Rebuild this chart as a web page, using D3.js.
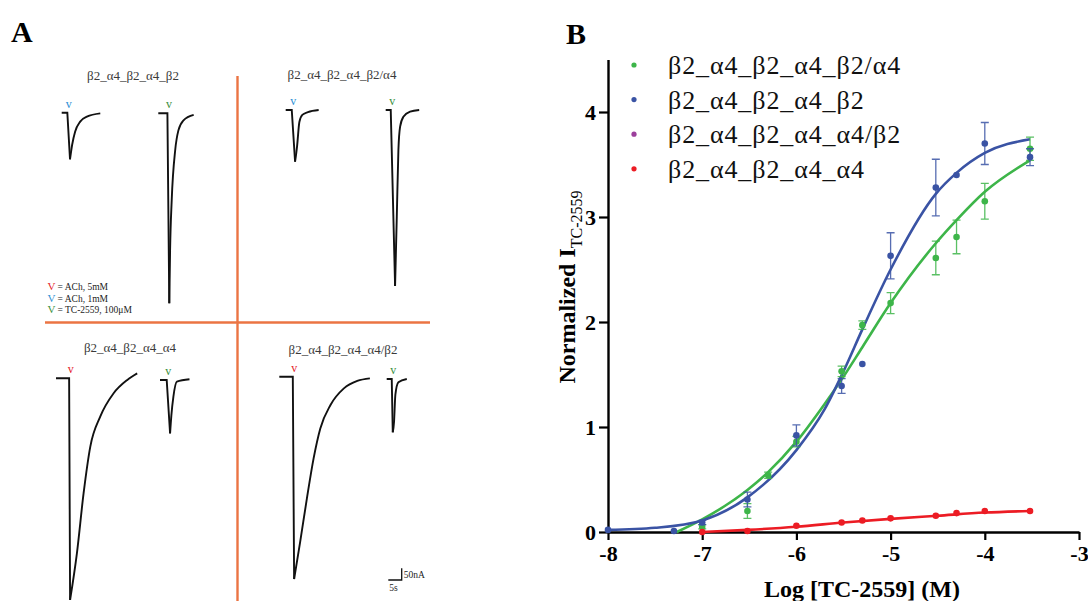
<!DOCTYPE html>
<html>
<head>
<meta charset="utf-8">
<script src="https://cdn.jsdelivr.net/npm/d3@7"></script>
<style>
  body { margin: 0; background: #fff; }
  svg { display: block; }
  text { font-family: "Liberation Serif", "Times New Roman", serif; }
</style>
</head>
<body>
<svg id="chart" width="1088" height="601"></svg>
<script>
// ---------------- data: panel A (current traces, [time s, inward current nA]) ----------------
const traceTitles = ['β2_α4_β2_α4_β2', 'β2_α4_β2_α4_β2/α4', 'β2_α4_β2_α4_α4', 'β2_α4_β2_α4_α4/β2'];
const agonistLabels = ['= ACh, 5mM', '= ACh, 1mM', '= TC-2559, 100μM'];
const agonistColors = ['#e5232b', '#2d8fd5', '#3a8f3e'];

const trace1 = [[0, 0], [2.1, 0], [3.1, 199], [3.9, 137], [5.0, 81], [6.9, 38], [9.4, 17], [14.4, 3]];
const trace2 = [[0, 0], [3.4, 0], [4.1, 812], [4.4, 585], [5.0, 372], [6.3, 158], [7.5, 73], [9.4, 30], [13.2, 7]];
const trace3 = [[0, 0], [2.26, 0], [3.5, 221], [4.25, 154], [5.1, 51], [6.2, 21], [8.3, 9], [12.3, 0]];
const trace4 = [[0, 0], [1.88, 0], [3.5, 752], [4.14, 456], [4.74, 171], [5.38, 71], [6.6, 29], [9.1, 7], [12.5, 0]];
const trace5 = [[0, 0], [4.9, 0], [5.26, 947], [7.8, 748], [10.3, 491], [12.8, 292], [16.5, 164], [21.5, 64], [26.6, 7], [30.3, -21]];
const trace6 = [[0, 0], [2.5, 0], [3.76, 228], [4.25, 150], [5.0, 71], [6.3, 7], [11, -3]];
const trace7 = [[0, 0], [5.04, 0], [5.53, 865], [7.8, 705], [10.3, 520], [12.8, 349], [15.3, 221], [19.1, 121], [24.1, 50], [29.1, 18], [33.8, 7]];
const trace8 = [[0, 0], [1.88, 0], [2.26, 228], [2.74, 182], [3.23, 68], [4.36, 14], [7.5, 0]];

// ---------------- data: panel B (concentration-response) ----------------
const seriesNames = ['β2_α4_β2_α4_β2/α4', 'β2_α4_β2_α4_β2', 'β2_α4_β2_α4_α4/β2', 'β2_α4_β2_α4_α4'];
const seriesColors = ['#3db549', '#3a53a4', '#9c3f9c', '#ec1c24'];
const xTicks = [-8, -7, -6, -5, -4, -3];
const yTicks = [0, 1, 2, 3, 4];

const greenX = [-7, -6.52, -6.3, -6, -5.52, -5.3, -5, -4.52, -4.3, -4, -3.52];
const greenY = [0.05, 0.20, 0.54, 0.86, 1.53, 1.97, 2.18, 2.61, 2.81, 3.15, 3.65];
const greenErr = [0.02, 0.07, 0.03, 0.05, 0.05, 0.04, 0.10, 0.16, 0.16, 0.17, 0.11];

const blueX = [-8, -7.3, -7, -6.52, -6, -5.52, -5.3, -5, -4.52, -4.3, -4, -3.52];
const blueY = [0.02, 0.01, 0.09, 0.31, 0.92, 1.39, 1.60, 2.63, 3.28, 3.40, 3.70, 3.57];
const blueErr = [0, 0, 0.02, 0.07, 0.10, 0.07, 0, 0.22, 0.27, 0, 0.20, 0.08];

const redX = [-7, -6.52, -6, -5.52, -5.3, -5, -4.52, -4.3, -4, -3.52];
const redY = [0.0, 0.01, 0.06, 0.09, 0.11, 0.13, 0.155, 0.18, 0.20, 0.20];
const redErr = [0.005, 0.005, 0.01, 0.01, 0.01, 0.01, 0.01, 0.01, 0.01, 0.01];

// fitted curves
const greenFitX = [-7.27, -7, -6.52, -6.3, -6, -5.7, -5.5, -5.3, -5, -4.52, -4.3, -4, -3.52];
const greenFitY = [0, 0.12, 0.40, 0.57, 0.86, 1.22, 1.48, 1.76, 2.18, 2.75, 2.97, 3.24, 3.54];
const blueFitX = [-8, -7.5, -7, -6.52, -6, -5.7, -5.5, -5.3, -5, -4.52, -4.3, -4, -3.52];
const blueFitY = [0.02, 0.04, 0.11, 0.33, 0.78, 1.17, 1.53, 1.93, 2.50, 3.22, 3.42, 3.61, 3.74];
const redFitX = [-7, -6.52, -6, -5.5, -5, -4.5, -4, -3.52];
const redFitY = [0.0, 0.02, 0.05, 0.09, 0.125, 0.155, 0.185, 0.20];

const svg = d3.select('#chart');

// ================= Panel A =================
const gA = svg.append('g');

gA.append('text').attr('x', 11).attr('y', 42)
  .attr('font-size', 30).attr('font-weight', 'bold').text('A');

// orange quadrant dividers
gA.append('line').attr('x1', 237.5).attr('x2', 237.5).attr('y1', 76).attr('y2', 601)
  .attr('stroke', '#eb7443').attr('stroke-width', 2.4);
gA.append('line').attr('x1', 45).attr('x2', 430).attr('y1', 322.5).attr('y2', 322.5)
  .attr('stroke', '#eb7443').attr('stroke-width', 2.4);

// quadrant titles
const titlePos = [[133, 80], [342, 79], [130, 352], [343, 354]];
traceTitles.forEach((t, i) => {
  gA.append('text').attr('x', titlePos[i][0]).attr('y', titlePos[i][1])
    .attr('text-anchor', 'middle').attr('font-size', 13).attr('fill', '#3a3a3a').text(t);
});

// trace scales shared by all recordings (scale bar 5 s / 50 nA)
const tScale = d3.scaleLinear().domain([0, 5]).range([0, 13.4]);
const iScale = d3.scaleLinear().domain([0, 50]).range([0, 11.7]);

const traces = [
  { pts: trace1, x0: 61.7, y0: 112.7, agonist: 1 },
  { pts: trace2, x0: 158.3, y0: 113.3, agonist: 2 },
  { pts: trace3, x0: 285.7, y0: 110, agonist: 1 },
  { pts: trace4, x0: 385.7, y0: 110, agonist: 2 },
  { pts: trace5, x0: 56, y0: 378.3, agonist: 0 },
  { pts: trace6, x0: 160, y0: 380, agonist: 2 },
  { pts: trace7, x0: 279.3, y0: 376.7, agonist: 0 },
  { pts: trace8, x0: 386.7, y0: 379, agonist: 2 }
];

traces.forEach(tr => {
  const line = d3.line()
    .x(d => tr.x0 + tScale(d[0]))
    .y(d => tr.y0 + iScale(d[1]));
  // baseline + fast activation: straight segments
  gA.append('path').attr('d', line(tr.pts.slice(0, 3)))
    .attr('fill', 'none').attr('stroke', '#111').attr('stroke-width', 1.9)
    .attr('stroke-linejoin', 'miter');
  // desensitisation / recovery: smooth
  gA.append('path').attr('d', line.curve(d3.curveMonotoneX)(tr.pts.slice(2)))
    .attr('fill', 'none').attr('stroke', '#111').attr('stroke-width', 1.9);
  // application marker
  gA.append('text')
    .attr('x', tr.x0 + tScale(tr.pts[1][0]) + 1.5)
    .attr('y', tr.y0 - 5)
    .attr('text-anchor', 'middle')
    .attr('font-family', 'DejaVu Sans, sans-serif')
    .attr('font-size', 12)
    .attr('fill', agonistColors[tr.agonist])
    .text('v');
});

// agonist legend
agonistLabels.forEach((lab, i) => {
  const yy = 290 + i * 11.5;
  gA.append('text').attr('x', 51.5).attr('y', yy).attr('text-anchor', 'middle')
    .attr('font-family', 'DejaVu Sans, sans-serif').attr('font-size', 11)
    .attr('fill', agonistColors[i]).text('V');
  gA.append('text').attr('x', 57.5).attr('y', yy)
    .attr('font-size', 9.5).attr('fill', '#222').text(lab);
});

// scale bar
const sbX = 401.7, sbY = 580;
gA.append('path')
  .attr('d', `M${sbX - tScale(5)},${sbY}H${sbX}V${sbY - iScale(50)}`)
  .attr('fill', 'none').attr('stroke', '#111').attr('stroke-width', 1.3);
gA.append('text').attr('x', sbX + 2).attr('y', sbY - 2).attr('font-size', 9.5).attr('fill', '#222').text('50nA');
gA.append('text').attr('x', sbX - tScale(5) + 1).attr('y', sbY + 11).attr('font-size', 9.5).attr('fill', '#222').text('5s');

// ================= Panel B =================
const gB = svg.append('g');

gB.append('text').attr('x', 566).attr('y', 44)
  .attr('font-size', 30).attr('font-weight', 'bold').text('B');

const x = d3.scaleLinear().domain([-8, -3]).range([608, 1079]);
const y = d3.scaleLinear().domain([0, 4.5]).range([532, 59.5]);

const yAxis = gB.append('g').attr('transform', `translate(${x(-8)},0)`)
  .call(d3.axisLeft(y).tickValues(yTicks).tickSize(9).tickSizeOuter(0).tickPadding(3).tickFormat(d => String(d)));
const xAxis = gB.append('g').attr('transform', `translate(0,${y(0)})`)
  .call(d3.axisBottom(x).tickValues(xTicks).tickSize(8).tickSizeOuter(0).tickPadding(5).tickFormat(d => String(d)));
[yAxis, xAxis].forEach(a => {
  a.select('.domain').attr('stroke', '#000').attr('stroke-width', 2.4);
  a.selectAll('.tick line').attr('stroke', '#000').attr('stroke-width', 2.2);
  a.selectAll('.tick text').attr('fill', '#000')
    .attr('font-family', '"Liberation Serif", "Times New Roman", serif')
    .attr('font-size', 22).attr('font-weight', 'bold');
});
yAxis.selectAll('.tick text').attr('dy', '0.34em');

// axis titles
gB.append('text').attr('x', 862).attr('y', 597).attr('text-anchor', 'middle')
  .attr('font-size', 24).attr('font-weight', 'bold').text('Log [TC-2559] (M)');

const yLab = gB.append('text')
  .attr('transform', 'translate(575,287) rotate(-90)')
  .attr('text-anchor', 'middle').attr('font-size', 24).attr('font-weight', 'bold');
yLab.append('tspan').text('Normalized I');
yLab.append('tspan').attr('dy', 7).attr('font-size', 16).attr('font-weight', 'normal').text('TC-2559');

// fitted curves
const fitLine = d3.line().x(d => x(d[0])).y(d => y(d[1])).curve(d3.curveMonotoneX);
const fits = [
  { xs: greenFitX, ys: greenFitY, c: seriesColors[0] },
  { xs: blueFitX, ys: blueFitY, c: seriesColors[1] },
  { xs: redFitX, ys: redFitY, c: seriesColors[3] }
];
fits.forEach(f => {
  gB.append('path').attr('d', fitLine(f.xs.map((v, i) => [v, f.ys[i]])))
    .attr('fill', 'none').attr('stroke', f.c).attr('stroke-width', 2.6);
});

// error bars + points
const pointSets = [
  { xs: greenX, ys: greenY, es: greenErr, c: seriesColors[0] },
  { xs: blueX, ys: blueY, es: blueErr, c: seriesColors[1] },
  { xs: redX, ys: redY, es: redErr, c: seriesColors[3] }
];
pointSets.forEach(s => {
  s.xs.forEach((xv, i) => {
    const e = s.es[i];
    if (e > 0.015) {
      const cx = x(xv), y1 = y(s.ys[i] + e), y2 = y(s.ys[i] - e);
      gB.append('path')
        .attr('d', `M${cx},${y1}V${y2}M${cx - 4},${y1}H${cx + 4}M${cx - 4},${y2}H${cx + 4}`)
        .attr('fill', 'none').attr('stroke', s.c).attr('stroke-width', 1.3).attr('opacity', 0.85);
    }
  });
  gB.selectAll(null).data(s.xs.map((v, i) => [v, s.ys[i]])).enter()
    .append('circle')
    .attr('cx', d => x(d[0])).attr('cy', d => y(d[1]))
    .attr('r', 3.3).attr('fill', s.c);
});

// legend
seriesNames.forEach((n, i) => {
  const ly = 65 + i * 34.6;
  gB.append('circle').attr('cx', 634).attr('cy', ly).attr('r', 2.6).attr('fill', seriesColors[i]);
  gB.append('text').attr('x', 668).attr('y', ly).attr('dy', '0.35em')
    .attr('font-size', 26).attr('letter-spacing', 0.9).attr('fill', '#111').text(n);
});
</script>
</body>
</html>
